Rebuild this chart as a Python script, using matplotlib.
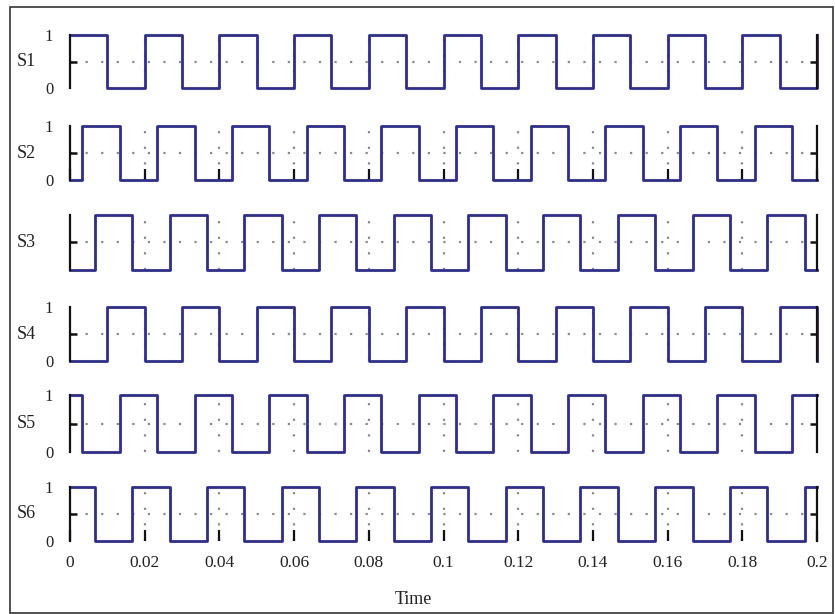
import numpy as np
import matplotlib
matplotlib.use("Agg")
import matplotlib.pyplot as plt
from matplotlib.patches import Rectangle

# switching table: one period of 0.02 s split into six equal steps
period = 0.02
n_cycles = 10
names = ["S1", "S2", "S3", "S4", "S5", "S6"]
s1 = [1, 1, 1, 0, 0, 0]
s2 = [0, 1, 1, 1, 0, 0]
s3 = [0, 0, 1, 1, 1, 0]
s4 = [0, 0, 0, 1, 1, 1]
s5 = [1, 0, 0, 0, 1, 1]
s6 = [1, 1, 0, 0, 0, 1]
patterns = [s1, s2, s3, s4, s5, s6]
xticks = [0, 0.02, 0.04, 0.06, 0.08, 0.1, 0.12, 0.14, 0.16, 0.18, 0.2]
xticklabels = ["0", "0.02", "0.04", "0.06", "0.08", "0.1", "0.12", "0.14", "0.16", "0.18", "0.2"]

plt.rcParams["font.family"] = ["Liberation Serif", "DejaVu Serif"]

W, H = 835, 614
fig = plt.figure(figsize=(W / 100, H / 100), dpi=100)

# pixel rows (top of "1", bottom of "0") for each trace
rows = [(35, 88), (126, 180), (215, 270), (307, 361), (395, 452), (487, 541)]
x0, x1 = 70, 817
blue = "#2c2c9c"
gridc = "#8a8a8a"

step = period / 6
for i, (name, pat, (top, bot)) in enumerate(zip(names, patterns, rows)):
    ax = fig.add_axes([x0 / W, 1 - bot / H, (x1 - x0) / W, (bot - top) / H])
    vals = np.array(pat * n_cycles + [pat[0]])
    t = np.arange(len(vals)) * step
    ax.step(t, vals, where="post", color=blue, lw=2.0, clip_on=False, zorder=3)
    ax.set_xlim(0, 0.2)
    ax.set_ylim(0, 1)
    for s in ["top", "bottom"]:
        ax.spines[s].set_visible(False)
    for s in ["left", "right"]:
        ax.spines[s].set_color("#111111")
        ax.spines[s].set_linewidth(1.6)
        ax.spines[s].set_zorder(4)
    ax.set_facecolor("none")

    # dotted grid
    ax.axhline(0.5, color=gridc, ls=(0, (1, 6)), lw=1.6, zorder=1)
    for xt in xticks[1:-1]:
        ax.axvline(xt, color=gridc, ls=(0, (1, 6)), lw=1.6, zorder=1)

    # labels at 0 and 1 without marks, one inward mark at 0.5
    ax.set_yticks([0, 1])
    if name == "S3":
        ax.set_yticklabels(["", ""])
    else:
        ax.set_yticklabels(["0", "1"])
    ax.set_yticks([0.5], minor=True)
    ax.tick_params(axis="y", which="major", left=True, length=0, labelsize=12, pad=12,
                   labelcolor="#222222")
    ax.tick_params(axis="y", which="minor", direction="in", left=True, right=True, length=5,
                   width=1.8, color="#111111")
    ax.set_ylabel(name, rotation=0, fontsize=13, color="#222222", va="center")
    ax.yaxis.set_label_coords(-0.058, 0.5)

    ax.set_xticks(xticks)
    tick_len = 8 if name in ("S2", "S6") else 0
    ax.tick_params(axis="x", direction="in", bottom=True, length=tick_len, width=1.6,
                   color="#111111", labelsize=12.5, pad=10, labelcolor="#222222")
    if name == "S6":
        ax.set_xticklabels(xticklabels)
    else:
        ax.set_xticklabels([])

fig.text(413 / W, 1 - 600 / H, "Time", ha="center", va="center", fontsize=13, color="#222222")

# outer frame
fig.patches.append(Rectangle((10 / W, 1 / H), 823 / W, 606 / H, transform=fig.transFigure,
                             fill=False, edgecolor="#333333", lw=1.2))

fig.savefig("out.png", dpi=100, facecolor="white")
